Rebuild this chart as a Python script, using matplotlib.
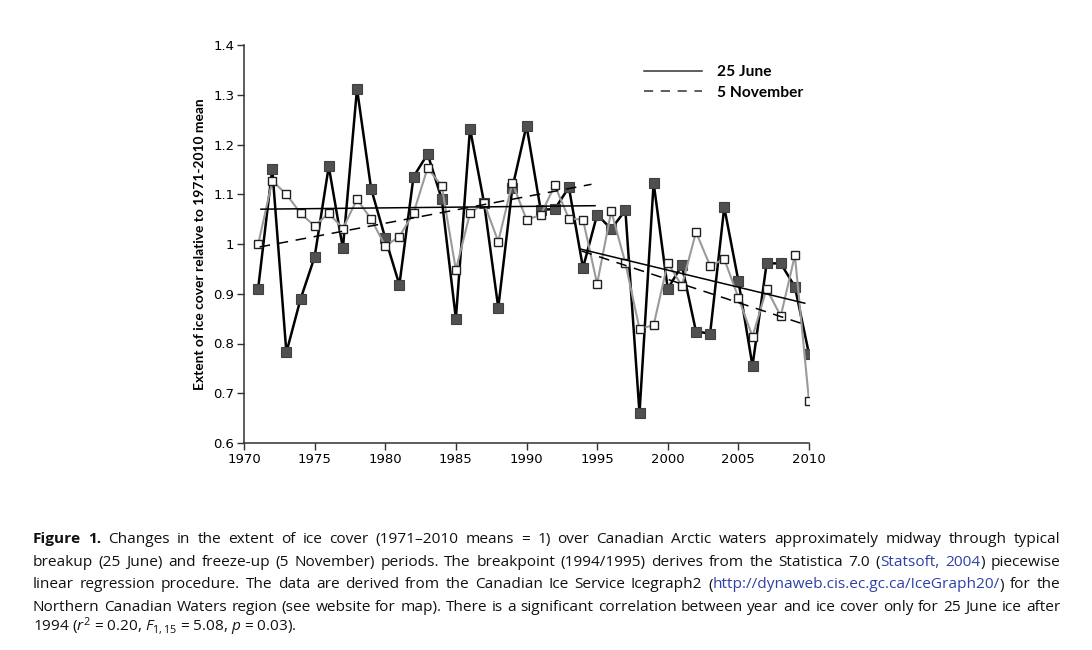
import matplotlib
matplotlib.use("Agg")
import matplotlib.pyplot as plt
from matplotlib.lines import Line2D
from matplotlib.offsetbox import TextArea, HPacker, AnnotationBbox
from matplotlib import font_manager as fm

# ---------------- data ----------------
years = list(range(1971, 2011))
june_25 = [0.91, 1.151, 0.782, 0.889, 0.974, 1.156, 0.991, 1.312, 1.111, 1.012,
           0.918, 1.135, 1.181, 1.090, 0.850, 1.232, 1.082, 0.872, 1.113, 1.238,
           1.069, 1.070, 1.114, 0.952, 1.059, 1.030, 1.068, 0.660, 1.123, 0.910,
           0.957, 0.824, 0.820, 1.074, 0.926, 0.755, 0.961, 0.961, 0.914, 0.779]
nov_5 = [0.999, 1.127, 1.100, 1.062, 1.036, 1.062, 1.031, 1.090, 1.050, 0.996,
         1.015, 1.062, 1.153, 1.116, 0.948, 1.062, 1.082, 1.005, 1.123, 1.049,
         1.058, 1.118, 1.051, 1.049, 0.920, 1.066, 0.962, 0.829, 0.837, 0.962,
         0.916, 1.024, 0.956, 0.970, 0.892, 0.814, 0.910, 0.855, 0.977, 0.685]

# piecewise regression lines
june_trend_pre_x = [1971.2, 1994.85]
june_trend_pre_y = [1.070, 1.077]
june_trend_post_x = [1993.8, 2009.7]
june_trend_post_y = [0.990, 0.881]
nov_trend_pre_x = [1971.1, 1994.6]
nov_trend_pre_y = [0.994, 1.120]
nov_trend_post_x = [1993.9, 2009.4]
nov_trend_post_y = [0.986, 0.841]

x_ticks = [1970, 1975, 1980, 1985, 1990, 1995, 2000, 2005, 2010]
y_ticks = [0.6, 0.7, 0.8, 0.9, 1.0, 1.1, 1.2, 1.3, 1.4]
y_tick_labels = ["0.6", "0.7", "0.8", "0.9", "1", "1.1", "1.2", "1.3", "1.4"]
legend_labels = ["25 June", "5 November"]
y_label = "Extent of ice cover relative to 1971-2010 mean"

BLUE = "#2f40a8"
caption_lines = [
    [("Figure 1.", "bold"), (" Changes in the extent of ice cover (1971\u20132010 means = 1) over Canadian Arctic waters approximately midway through typical", "normal")],
    [("breakup (25 June) and freeze-up (5 November) periods. The breakpoint (1994/1995) derives from the Statistica 7.0 (", "normal"), ("Statsoft, 2004", "blue"), (") piecewise", "normal")],
    [("linear regression procedure. The data are derived from the Canadian Ice Service Icegraph2 (", "normal"), ("http://dynaweb.cis.ec.gc.ca/IceGraph20/", "blue"), (") for the", "normal")],
    [("Northern Canadian Waters region (see website for map). There is a significant correlation between year and ice cover only for 25 June ice after", "normal")],
    [("1994 ($r^2$ = 0.20, $F_{1,15}$ = 5.08, $p$ = 0.03).", "normal")],
]

# ---------------- fonts ----------------
available = {f.name for f in fm.fontManager.ttflist}
def pick(*names):
    for n in names:
        if n in available:
            return n
    return "DejaVu Sans"

cap_font = pick("Open Sans", "Lato", "DejaVu Sans")
lab_font = pick("Lato", "Open Sans", "DejaVu Sans")
tick_font = "DejaVu Sans"

plt.rcParams["mathtext.fontset"] = "custom"
plt.rcParams["mathtext.rm"] = cap_font
plt.rcParams["mathtext.it"] = cap_font + ":italic"

# ---------------- figure ----------------
fig = plt.figure(figsize=(10.92, 6.5), dpi=100)
ax = fig.add_axes([244 / 1092, 1 - 443 / 650, (809 - 244) / 1092, (443 - 45) / 650])

ax.plot(years, june_25, color="black", lw=1.8, zorder=3,
        marker="s", ms=6.5, mfc="#505050", mec="#404040", mew=0.8)
ax.plot(years, nov_5, color="#9a9a9a", lw=1.5, zorder=4,
        marker="s", ms=6.0, mfc="white", mec="#202020", mew=1.0)

for tx, ty, ls in [(june_trend_pre_x, june_trend_pre_y, "-"),
                   (june_trend_post_x, june_trend_post_y, "-"),
                   (nov_trend_pre_x, nov_trend_pre_y, (0, (7, 5))),
                   (nov_trend_post_x, nov_trend_post_y, (0, (7, 5)))]:
    ax.plot(tx, ty, color="black", lw=1.1, ls=ls, zorder=5)

ax.set_xlim(1970, 2010)
ax.set_ylim(0.6, 1.4)
ax.set_xticks(x_ticks)
ax.set_xticklabels([str(t) for t in x_ticks], fontfamily=tick_font, fontsize=9.5)
ax.set_yticks(y_ticks)
ax.set_yticklabels(y_tick_labels, fontfamily=tick_font, fontsize=9.5)
ax.tick_params(direction="out", length=5, width=1.0, color="#303030", pad=2)
for s in ["top", "right"]:
    ax.spines[s].set_visible(False)
for s in ["left", "bottom"]:
    ax.spines[s].set_linewidth(1.1)
    ax.spines[s].set_color("#303030")
ax.spines["bottom"].set_bounds(1970, 2010)

ax.set_ylabel(y_label, fontfamily=lab_font, fontweight="bold", fontsize=9.9, labelpad=5)

handles = [Line2D([], [], color="#333333", lw=1.1, ls="-"),
           Line2D([], [], color="#333333", lw=1.1, ls=(0, (6, 5)))]
leg = fig.legend(handles, legend_labels, loc="upper left",
                 bbox_to_anchor=(630 / 1092, 1 - 51 / 650), frameon=False,
                 handlelength=3.7, handletextpad=1.0, labelspacing=0.42,
                 prop={"family": lab_font, "weight": "bold", "size": 11.2})

# ---------------- caption ----------------
def word_groups(line):
    groups = [[]]
    for text, style in line:
        parts = text.split(" ")
        for i, p in enumerate(parts):
            if i > 0:
                groups.append([])
            if p:
                groups[-1].append((p, style))
    return [g for g in groups if g]

def make_area(text, style):
    props = dict(family=cap_font, size=11.1, color="#111111")
    if style == "bold":
        props["weight"] = "bold"
    if style == "blue":
        props["color"] = BLUE
    return TextArea(text, textprops=props)

left_px, right_px = 33, 1060
baselines_from_top = [543, 566, 588.5, 611, 633.5]
for i, line in enumerate(caption_lines):
    groups = word_groups(line)
    if i < len(caption_lines) - 1:
        boxes = [HPacker(children=[make_area(t, s) for t, s in g], pad=0, sep=0, align="baseline")
                 for g in groups]
        packer = HPacker(children=boxes, pad=0, sep=0, align="baseline",
                         mode="expand", width=right_px - left_px)
    else:
        packer = HPacker(children=[make_area(t, s) for t, s in line], pad=0, sep=0, align="baseline")
    ab = AnnotationBbox(packer, (left_px, 650 - baselines_from_top[i] - 4),
                        xycoords="figure pixels", box_alignment=(0, 0),
                        frameon=False, pad=0)
    fig.add_artist(ab)

fig.savefig("out.png", dpi=100)
